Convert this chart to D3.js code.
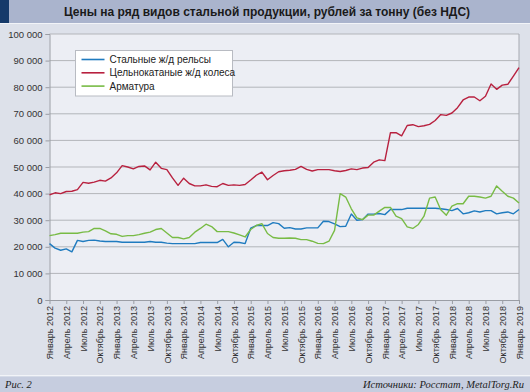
<!DOCTYPE html>
<html>
<head>
<meta charset="utf-8">
<script src="https://cdn.jsdelivr.net/npm/d3@7"></script>
<style>
  body { margin: 0; background: #dde1ea; }
  svg { display: block; font-family: 'Liberation Sans', Arial, sans-serif; }
</style>
</head>
<body>
<div id="chart"></div>
<script>
const W = 530, H = 392;
const margin = {top: 34, right: 11, bottom: 92, left: 49.5};

// monthly values, Jan 2012 .. Jan 2019 (85 points), rub/t
const rails = [21200, 19500, 18700, 19200, 18100, 22400, 22000, 22400, 22500, 22200, 22000, 22000,
  22000, 21700, 21700, 21700, 21700, 21700, 22000, 21700, 21700, 21400, 21200, 21200,
  21200, 21200, 21200, 21600, 21600, 21600, 21600, 22800, 20000, 21700, 21600, 21200,
  27000, 28000, 28000, 28000, 29100, 28700, 27000, 27200, 26700, 26700, 27100, 27100,
  27100, 29600, 29500, 28600, 27600, 27700, 32300, 30000, 30200, 32300, 32300, 32500,
  32100, 34000, 34000, 34000, 34500, 34500, 34500, 34500, 34500, 34500, 34300, 34000,
  33600, 34400, 32400, 32800, 33500, 33100, 33600, 33600, 32400, 32800, 33100, 32400,
  34000];
const wheels = [39500, 40300, 40000, 40800, 40900, 41500, 44200, 43900, 44300, 45000, 44700, 45900,
  47800, 50500, 50000, 49300, 50200, 50400, 48900, 51800, 49500, 49000, 45900, 43100,
  45800, 43800, 42900, 42900, 43300, 42700, 42600, 43800, 43100, 43300, 43100, 43400,
  45100, 46900, 48100, 45200, 46800, 48200, 48600, 48800, 49100, 50200, 49100, 48500,
  49000, 49000, 49000, 48600, 48300, 48700, 49300, 49000, 49600, 49800, 51800, 52700,
  52400, 62900, 62900, 61700, 65600, 65900, 65200, 65500, 66000, 67500, 69700, 69400,
  70300, 72300, 75200, 76300, 76300, 74900, 76600, 81200, 79200, 80800, 81100, 84200,
  87400];
const rebar = [24200, 24600, 25100, 25100, 25100, 25100, 25500, 25700, 26900, 26900, 26000, 24900,
  24700, 23900, 24200, 24200, 24600, 25100, 25500, 26500, 26900, 25200, 23500, 23500,
  23000, 23500, 25500, 26900, 28500, 27600, 25700, 25700, 25700, 25200, 24500, 23700,
  26500, 28000, 28700, 25000, 23500, 23200, 23200, 23300, 23200, 22700, 22700, 22100,
  21300, 21200, 22100, 26200, 40000, 38700, 34300, 30900, 30200, 31900, 31900, 33400,
  34800, 34800, 31500, 30600, 27500, 26900, 28400, 31500, 38300, 38700, 33900, 31900,
  35300, 36200, 36200, 39000, 39000, 38700, 38300, 39000, 42900, 40900, 39000, 38300,
  36500];

const monthNames = ['Январь', 'Апрель', 'Июль', 'Октябрь'];
const years = [2012, 2013, 2014, 2015, 2016, 2017, 2018, 2019];
const tickLabels = [];
years.forEach(y => monthNames.forEach(m => tickLabels.push(m + ' ' + y)));
tickLabels.length = 29; // up to Январь 2019

const series = [
  {name: 'Стальные ж/д рельсы', color: '#1f7bbf', values: rails},
  {name: 'Цельнокатаные ж/д колеса', color: '#b8213f', values: wheels},
  {name: 'Арматура', color: '#78bb45', values: rebar}
];

const svg = d3.select('#chart').append('svg')
  .attr('width', W)
  .attr('height', H);

// title bar
svg.append('rect').attr('x', 0).attr('y', 0).attr('width', W).attr('height', 23).attr('fill', '#aab4cd');
svg.append('rect').attr('x', 0).attr('y', 0).attr('width', 9).attr('height', 23).attr('fill', '#163a6a');
svg.append('rect').attr('x', 0).attr('y', 23).attr('width', W).attr('height', 1).attr('fill', '#f2f4f8');
svg.append('text')
  .attr('x', 267)
  .attr('y', 16)
  .attr('text-anchor', 'middle')
  .style('font-size', '12px')
  .style('font-weight', 'bold')
  .style('fill', '#1a1a1a')
  .text('Цены на ряд видов стальной продукции, рублей за тонну (без НДС)');

const x = d3.scaleLinear().domain([0, 84]).range([margin.left, W - margin.right]);
const y = d3.scaleLinear().domain([0, 100000]).range([H - margin.bottom, margin.top]);

// plot background
svg.append('rect')
  .attr('x', x(0)).attr('y', y(100000))
  .attr('width', x(84) - x(0)).attr('height', y(0) - y(100000))
  .attr('fill', '#eceef4');

// grid
svg.append('g')
  .selectAll('line')
  .data(d3.range(10000, 100001, 10000))
  .join('line')
  .attr('x1', x(0)).attr('x2', x(84))
  .attr('y1', d => y(d)).attr('y2', d => y(d))
  .attr('stroke', '#b3b5ba')
  .attr('stroke-width', 1);

// right border
svg.append('line')
  .attr('x1', x(84)).attr('x2', x(84))
  .attr('y1', y(100000)).attr('y2', y(0))
  .attr('stroke', '#a6a9b0');

const fmt = d => d === 0 ? '0' : d3.format(',')(d).replace(',', ' ');
const yAxis = d3.axisLeft(y)
  .tickValues(d3.range(0, 100001, 10000))
  .tickSize(4)
  .tickPadding(3)
  .tickFormat(fmt);

const gy = svg.append('g')
  .attr('transform', `translate(${margin.left},0)`)
  .call(yAxis);
gy.selectAll('.domain, line').attr('stroke', '#9a9da4');
gy.selectAll('text').style('font-size', '9.5px').style('fill', '#333').style('font-family', null);

const xAxis = d3.axisBottom(x)
  .tickValues(d3.range(0, 85, 3))
  .tickSize(4)
  .tickSizeOuter(0)
  .tickFormat((d, i) => tickLabels[i]);

const gx = svg.append('g')
  .attr('transform', `translate(0,${y(0)})`)
  .call(xAxis);
gx.selectAll('.domain, line').attr('stroke', '#9a9da4');
gx.selectAll('text')
  .style('font-size', '9px')
  .style('fill', '#333')
  .style('font-family', null)
  .attr('text-anchor', 'end')
  .attr('transform', 'rotate(-90)')
  .attr('x', -6)
  .attr('y', 0)
  .attr('dy', '0.35em');

// lines
const line = d3.line()
  .x((d, i) => x(i))
  .y(d => y(d));

series.forEach(s => {
  svg.append('path')
    .datum(s.values)
    .attr('fill', 'none')
    .attr('stroke', s.color)
    .attr('stroke-width', 1.4)
    .attr('stroke-linejoin', 'round')
    .attr('d', line);
});

// legend
const legend = svg.append('g').attr('transform', 'translate(75.5,50.5)');
legend.append('rect')
  .attr('width', 157)
  .attr('height', 45.5)
  .attr('fill', '#fff')
  .attr('stroke', '#b8bbc2');
series.forEach((s, i) => {
  const row = legend.append('g').attr('transform', `translate(0,${9 + i * 13.3})`);
  row.append('line')
    .attr('x1', 6).attr('x2', 29)
    .attr('stroke', s.color)
    .attr('stroke-width', 1.6);
  row.append('text')
    .attr('x', 34)
    .attr('dy', '0.35em')
    .style('font-size', '10px')
    .style('fill', '#222')
    .text(s.name);
});

// footer
svg.append('rect').attr('x', 0).attr('y', 375).attr('width', W).attr('height', 1.5).attr('fill', '#f2f4f8');
svg.append('rect').attr('x', 0).attr('y', 376.5).attr('width', W).attr('height', H - 376.5).attr('fill', '#c6cddf');
svg.append('text')
  .attr('x', 5)
  .attr('y', 388)
  .style('font-family', "'Liberation Serif', serif")
  .style('font-style', 'italic')
  .style('font-size', '10.5px')
  .style('fill', '#222')
  .text('Рис. 2');
svg.append('text')
  .attr('x', 524)
  .attr('y', 388)
  .attr('text-anchor', 'end')
  .style('font-family', "'Liberation Serif', serif")
  .style('font-style', 'italic')
  .style('font-size', '10.5px')
  .style('fill', '#222')
  .text('Источники: Росстат, MetalTorg.Ru');
</script>
</body>
</html>
